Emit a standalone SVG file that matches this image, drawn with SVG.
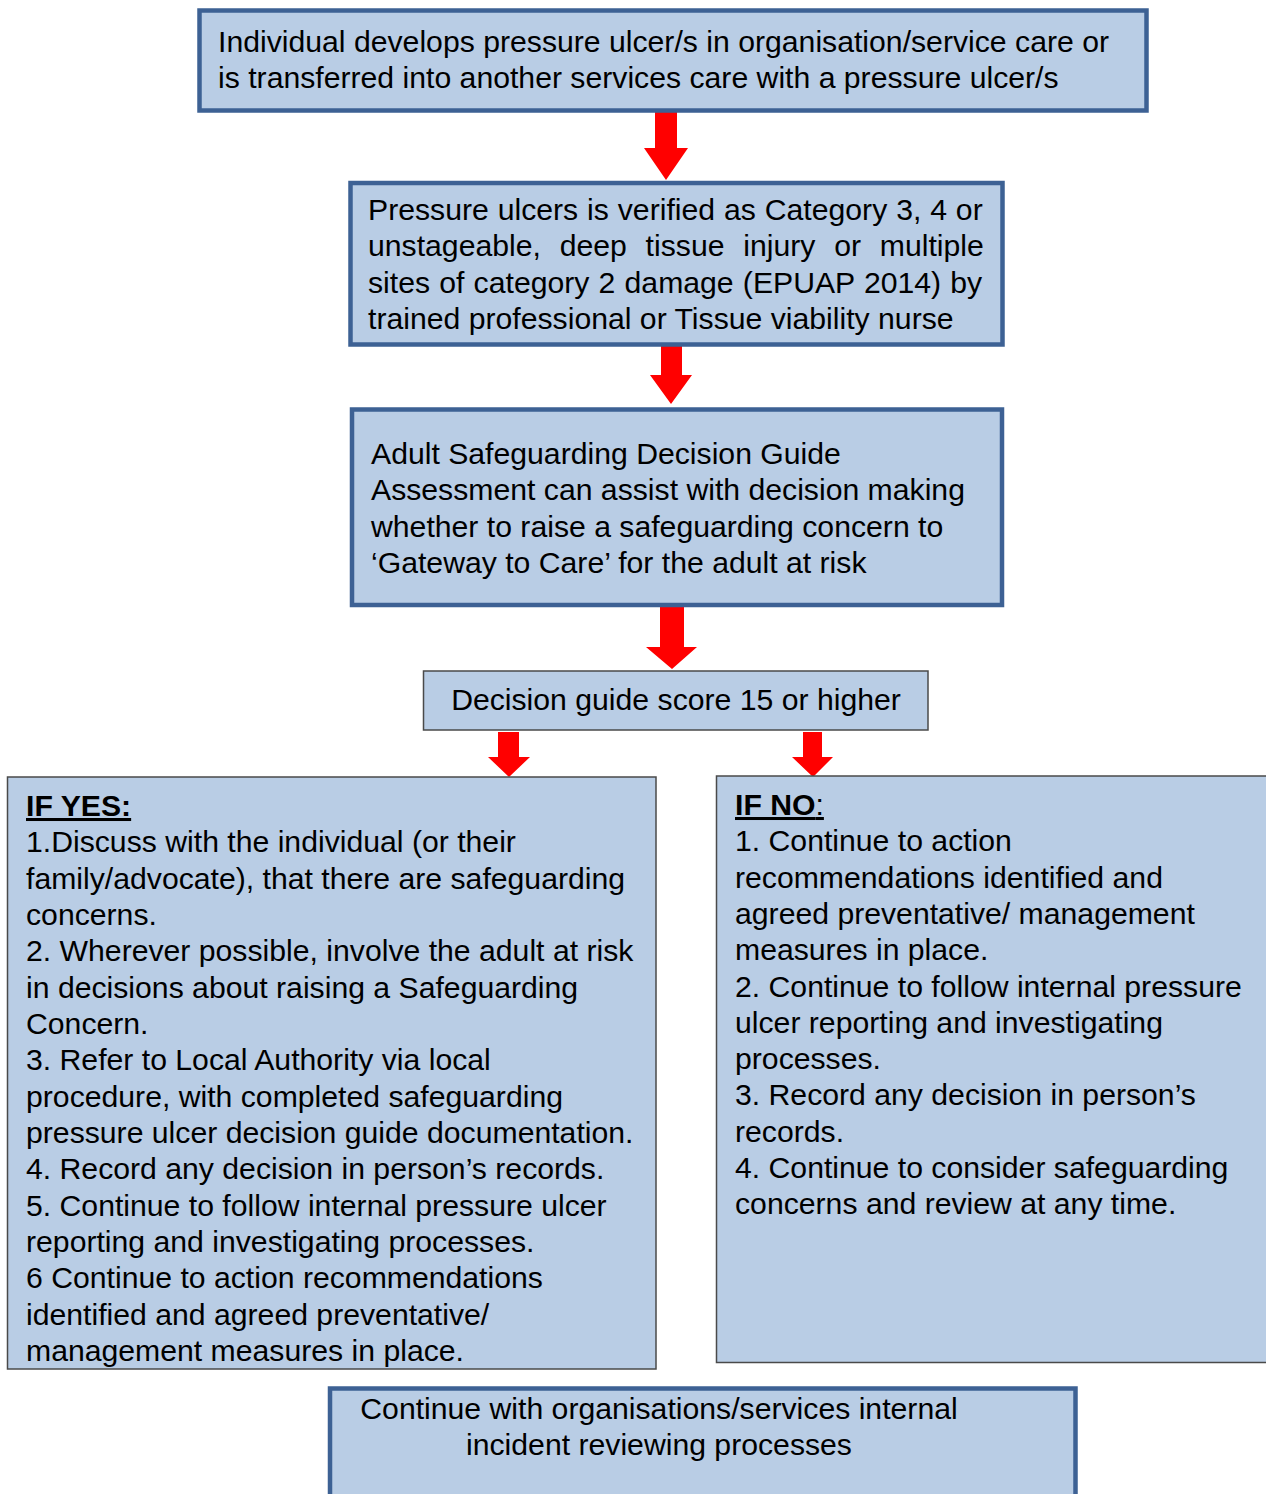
<svg xmlns="http://www.w3.org/2000/svg" width="1266" height="1494" viewBox="0 0 1266 1494">
<style>
text{font-family:"Liberation Sans",Arial,sans-serif;font-size:30.2px;fill:#000}
.thick{fill:#B9CDE5;stroke:#3D6194;stroke-width:4.5}
.thin{fill:#B9CDE5;stroke:#4A4A4A;stroke-width:1.5}
.arr{fill:#FF0000}
.ul{text-decoration:underline}
.c{text-anchor:middle}
</style>
<rect width="1266" height="1494" fill="#FFFFFF"/>
<g id="connectors">
<polygon class="arr" points="655,111 677,111 677,148 688,148 666,180 644,148 655,148"/>
<polygon class="arr" points="661,346 682,346 682,375 692,375 671,404 650,375 661,375"/>
<polygon class="arr" points="660,607 684,607 684,647 697,647 672,669 646,647 660,647"/>
<polygon class="arr" points="498,732 519,732 519,757 530,757 509,777 488,757 498,757"/>
<polygon class="arr" points="803,732 822,732 822,757 833,757 813,777 792,757 803,757"/>
</g>
<g id="n1">
<rect class="thick" x="199.5" y="10.5" width="947" height="100"/>
<text x="218" y="52">Individual develops pressure ulcer/s in organisation/service care or</text>
<text x="218" y="88">is transferred into another services care with a pressure ulcer/s</text>
</g>
<g id="n2">
<rect class="thick" x="350.5" y="183" width="652" height="161.5"/>
<text x="368" y="220" word-spacing="0.5">Pressure ulcers is verified as Category 3, 4 or</text>
<text x="368" y="256.3" word-spacing="10.4">unstageable, deep tissue injury or multiple</text>
<text x="368" y="292.6" word-spacing="0.8">sites of category 2 damage (EPUAP 2014) by</text>
<text x="368" y="329">trained professional or Tissue viability nurse</text>
</g>
<g id="n3">
<rect class="thick" x="352" y="409.5" width="650" height="195.5"/>
<text x="371" y="464">Adult Safeguarding Decision Guide</text>
<text x="371" y="500.3">Assessment can assist with decision making</text>
<text x="371" y="536.6">whether to raise a safeguarding concern to</text>
<text x="371" y="573">‘Gateway to Care’ for the adult at risk</text>
</g>
<g id="n4">
<rect class="thin" x="423.5" y="671" width="504.5" height="59"/>
<text class="c" x="676" y="710">Decision guide score 15 or higher</text>
</g>
<g id="n5">
<rect class="thin" x="7.5" y="777" width="648.5" height="592"/>
<text x="26" y="816" class="ul" font-weight="bold">IF YES:</text>
<text x="26" y="852.3">1.Discuss with the individual (or their</text>
<text x="26" y="888.7">family/advocate), that there are safeguarding</text>
<text x="26" y="925">concerns.</text>
<text x="26" y="961.3">2. Wherever possible, involve the adult at risk</text>
<text x="26" y="997.7">in decisions about raising a Safeguarding</text>
<text x="26" y="1034">Concern.</text>
<text x="26" y="1070.3">3. Refer to Local Authority via local</text>
<text x="26" y="1106.7">procedure, with completed safeguarding</text>
<text x="26" y="1143">pressure ulcer decision guide documentation.</text>
<text x="26" y="1179.3">4. Record any decision in person’s records.</text>
<text x="26" y="1215.7">5. Continue to follow internal pressure ulcer</text>
<text x="26" y="1252">reporting and investigating processes.</text>
<text x="26" y="1288.3">6 Continue to action recommendations</text>
<text x="26" y="1324.7">identified and agreed preventative/</text>
<text x="26" y="1361">management measures in place.</text>
</g>
<g id="n6">
<rect class="thin" x="716.5" y="776" width="560" height="586.5"/>
<text x="735" y="815" class="ul"><tspan font-weight="bold">IF NO</tspan>:</text>
<text x="735" y="851.3">1. Continue to action</text>
<text x="735" y="887.6">recommendations identified and</text>
<text x="735" y="923.9">agreed preventative/ management</text>
<text x="735" y="960.2">measures in place.</text>
<text x="735" y="996.5">2. Continue to follow internal pressure</text>
<text x="735" y="1032.8">ulcer reporting and investigating</text>
<text x="735" y="1069.1">processes.</text>
<text x="735" y="1105.4">3. Record any decision in person’s</text>
<text x="735" y="1141.7">records.</text>
<text x="735" y="1178">4. Continue to consider safeguarding</text>
<text x="735" y="1214.3">concerns and review at any time.</text>
</g>
<g id="n7">
<rect class="thick" x="330" y="1388.5" width="745.5" height="200"/>
<text class="c" x="659" y="1419">Continue with organisations/services internal</text>
<text class="c" x="659" y="1455">incident reviewing processes</text>
</g>
</svg>
